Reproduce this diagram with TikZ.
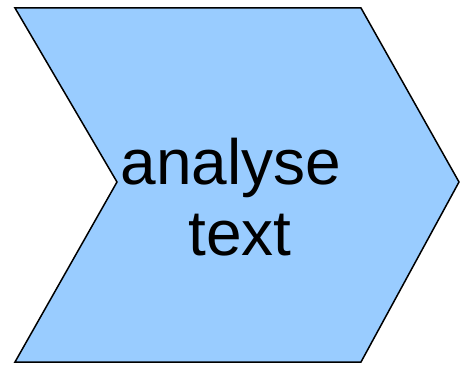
\documentclass[tikz,border=0pt]{standalone}
\usepackage{fontspec}
\setmainfont{Liberation Sans}
\definecolor{chevfill}{HTML}{99CCFF}
\tikzset{chev/.style={draw=black, fill=chevfill, line width=1.5pt, line join=miter},
  lbl/.style={align=center, font=\fontsize{64}{71}\selectfont, inner sep=0pt}}
\begin{document}
\begin{tikzpicture}[x=1pt,y=1pt]
\useasboundingbox (0,0) rectangle (460,364);
\draw[chev] (15,356) -- (361,356) -- (459,182) -- (361,2) -- (15,2) -- (117,182) -- cycle;
\node[lbl] (t) at (240,167) {analyse\hphantom{\ }\\text};
\end{tikzpicture}
\end{document}
